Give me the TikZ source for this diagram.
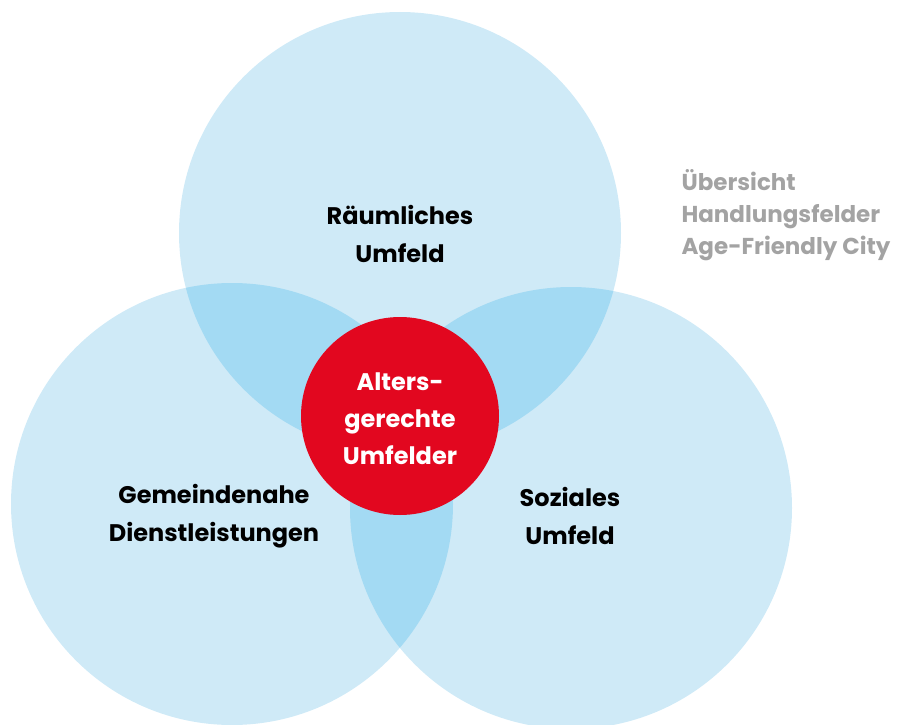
\documentclass[tikz,border=0pt]{standalone}
\usepackage{fontspec}
\setmainfont{Poppins}
\usetikzlibrary{positioning}

\definecolor{feldblau}{HTML}{CFEAF7}
\definecolor{schnittblau}{HTML}{A3DAF3}
\definecolor{mitterot}{HTML}{E2071F}
\definecolor{titelgrau}{HTML}{A3A3A3}

\tikzset{
  feld/.style={font=\bfseries\fontsize{24}{38}\selectfont, align=center, text=black},
  mitte/.style={circle, fill=mitterot, minimum size=198pt, inner sep=0pt,
    font=\bfseries\fontsize{24}{37}\selectfont, align=center, text=white},
  titel/.style={font=\bfseries\fontsize{23}{32}\selectfont, align=left, text=titelgrau, anchor=west}
}

\begin{document}
\begin{tikzpicture}[x=1pt, y=-1pt]

      \useasboundingbox (0,0) rectangle (903,725);

      % the three fields
      \coordinate (raum)  at (400,233);
      \coordinate (dienst) at (232,504);
      \coordinate (sozial) at (571,508);

      \fill[feldblau] (raum) circle (221);
      \fill[feldblau] (dienst) circle (221);
      \fill[feldblau] (sozial) circle (221);

      % overlaps
      \begin{scope}
        \clip (raum) circle (221);
        \fill[schnittblau] (dienst) circle (221);
        \fill[schnittblau] (sozial) circle (221);
      \end{scope}
      \begin{scope}
        \clip (dienst) circle (221);
        \fill[schnittblau] (sozial) circle (221);
      \end{scope}

      \node[mitte] (alter) at (400,416) {};
      \node[font=\bfseries\fontsize{24}{37}\selectfont, align=center, text=white] (altertext) at (400,419) {Alters-\\gerechte\\Umfelder};

      \node[feld] (raumtext)   at (400,234) {Räumliches\\Umfeld};
      \node[feld] (diensttext) at (214,516) {Gemeindenahe\\Dienstleistungen};
      \node[feld] (sozialtext) at (570,516) {Soziales\\Umfeld};

      \node[titel] (uebersicht) at (678,215) {Übersicht\\Handlungsfelder\\Age-Friendly City};

    \end{tikzpicture}
\end{document}
